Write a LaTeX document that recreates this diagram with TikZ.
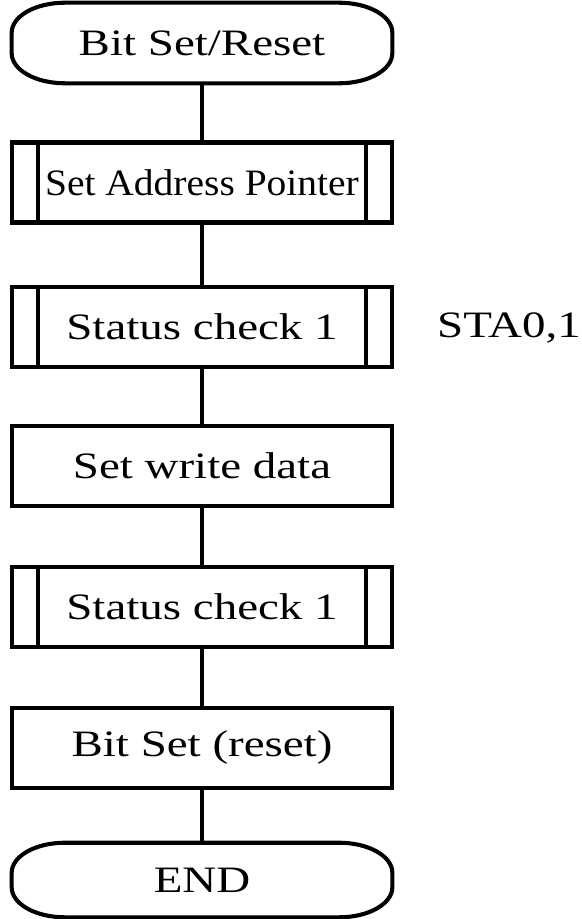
\documentclass[tikz,border=0pt]{standalone}
\usepackage{fontspec}
\setmainfont{Liberation Serif}[FakeStretch=1.26]
\newfontfamily\narrowserif{Liberation Serif}[FakeStretch=1.06]

\tikzset{
  frame/.style={line width=2.9pt},
  box/.style={frame, draw, minimum width=9.5cm, minimum height=2cm, inner sep=0pt},
  term/.style={minimum width=9.5cm, minimum height=2cm, inner sep=0pt},
  flow/.style={line width=3.4pt}
}
% rounded frame of a terminal node
\newcommand\termframe[1]{%
  \draw[frame] ([xshift=1.33cm]#1.north west) -- ([xshift=-1.33cm]#1.north east)
    arc[start angle=90,end angle=0,x radius=1.33cm,y radius=0.75cm]
    -- ([yshift=0.75cm]#1.south east)
    arc[start angle=0,end angle=-90,x radius=1.33cm,y radius=0.75cm]
    -- ([xshift=1.33cm]#1.south west)
    arc[start angle=270,end angle=180,x radius=1.33cm,y radius=0.75cm]
    -- ([yshift=-0.75cm]#1.north west)
    arc[start angle=180,end angle=90,x radius=1.33cm,y radius=0.75cm] -- cycle;}
% side bars of a subroutine box
\newcommand\subbars[1]{%
  \draw[frame] ([xshift=0.7cm]#1.north west) -- ([xshift=0.7cm]#1.south west);
  \draw[frame] ([xshift=-0.7cm]#1.north east) -- ([xshift=-0.7cm]#1.south east);}

\begin{document}
\begin{tikzpicture}[x=0.025cm,y=-0.025cm,
    every node/.style={font=\fontsize{26.5}{30}\selectfont}]
        \useasboundingbox (0,0) rectangle (581,919);
        %
        \node [term] (start) at (202,43) {Bit Set/Reset};
        \termframe{start}
        \node [box] (setptr) at (202,182.5) {\narrowserif Set Address Pointer};
        \subbars{setptr}
        \node [box] (chkA) at (202,327) {Status check 1};
        \subbars{chkA}
        \node [box] (wrdata) at (202,466) {Set write data};
        \node [box] (chkB) at (202,607) {Status check 1};
        \subbars{chkB}
        \node [box] (bitset) at (202,748) {Bit Set (reset)};
        \node [term, minimum height=1.85cm] (stop) at (202,880) {END};
        \termframe{stop}
        %
        \node (sta) at (509,328) {STA0,1};
        %
        \draw [flow] (start.south) -- (setptr.north);
        \draw [flow] (setptr) -- (chkA);
        \draw [flow] (chkA) -- (wrdata);
        \draw [flow] (wrdata) -- (chkB);
        \draw [flow] (chkB) -- (bitset);
        \draw [flow] (bitset) -- (stop.north);
      \end{tikzpicture}
\end{document}
